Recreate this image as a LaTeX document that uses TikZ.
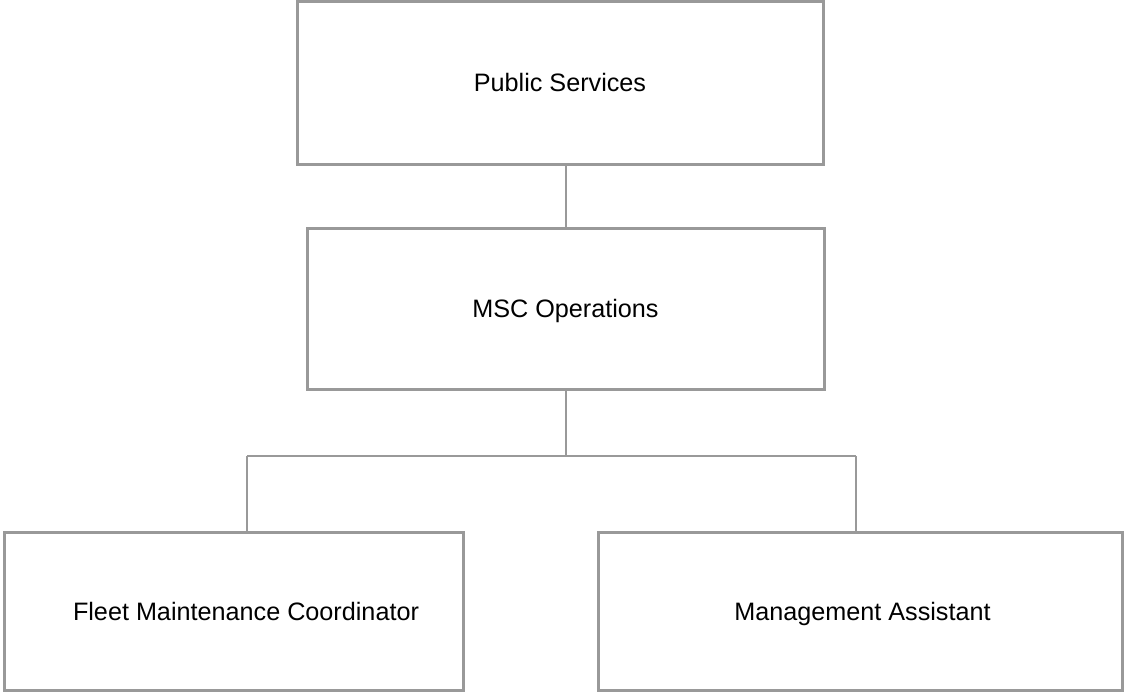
\documentclass[tikz,border=0pt]{standalone}
\usepackage{fontspec}
\setmainfont{Liberation Sans}
\tikzset{every picture/.style={line width=0.75pt}}
\tikzset{
  orgbox/.style={draw={rgb, 255:red, 153; green, 153; blue, 153 }, line width=2.25pt, inner sep=0pt, text height=14.5pt, text depth=1pt, font=\fontsize{18.9}{22}\selectfont},
  orgline/.style={draw={rgb, 255:red, 153; green, 153; blue, 153 }, line width=1.5pt}
}
\begin{document}
\begin{tikzpicture}[x=0.75pt,y=0.75pt,yscale=-1,xscale=1]
\useasboundingbox (0,0) rectangle (1125,692);

%Shape: Rectangle [id:ps]
\node [orgbox, minimum width=526*0.75pt, minimum height=162.5*0.75pt] (ps) at (560,82.75) {Public Services};
%Shape: Rectangle [id:msc]
\node [orgbox, minimum width=517*0.75pt, minimum height=161*0.75pt] (msc) at (565.5,308.5) {MSC Operations};
%Shape: Rectangle [id:fmc]
\node [orgbox, minimum width=459*0.75pt, minimum height=158*0.75pt] (fmc) at (233.5,611) {\hspace*{18.75pt}Fleet Maintenance Coordinator};
%Shape: Rectangle [id:ma]
\node [orgbox, minimum width=524*0.75pt, minimum height=158*0.75pt] (ma) at (860,611) {\hspace*{3.75pt}Management Assistant};

%Straight Lines [id:bus]
\coordinate (jm) at (566,456);
\coordinate (jl) at (247,456);
\coordinate (jr) at (856,456);
\draw [orgline] (ps.south -| jm) -- (msc.north -| jm) ;
\draw [orgline] (msc.south -| jm) -- (jm) ;
\draw [orgline] (jl) -- (jr) ;
\draw [orgline] (jl) -- (jl |- fmc.north) ;
\draw [orgline] (jr) -- (jr |- ma.north) ;

\end{tikzpicture}
\end{document}
